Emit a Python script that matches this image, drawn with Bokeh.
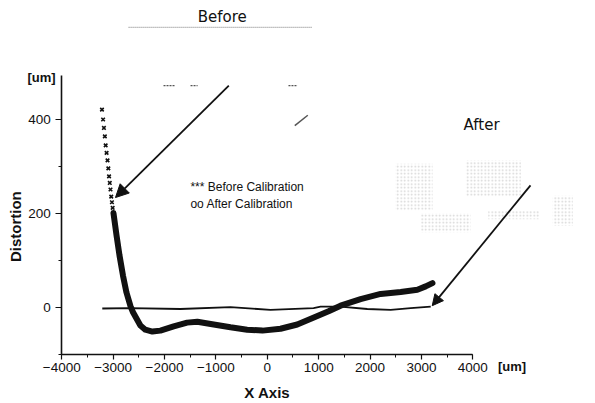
import math
from bokeh.plotting import figure
from bokeh.models import Range1d, SingleIntervalTicker, Label, Arrow, NormalHead
from bokeh.embed import file_html
from bokeh.resources import INLINE

# ---------------- data ----------------
# "Before calibration": steep part drawn as separate markers
before_marker_x = [-3218, -3196, -3180, -3162, -3146, -3128, -3110, -3094, -3080, -3066, -3052, -3038, -3024, -3010, -2994]
before_marker_y = [421, 400, 382, 364, 345, 329, 313, 296, 279, 265, 251, 236, 224, 212, 201]
# "Before calibration": dense part (markers merge into a thick band)
before_line_x = [-2994, -2934, -2877, -2809, -2741, -2663, -2614, -2470, -2374, -2237, -2081, -1822, -1561,
                 -1362, -1043, -717, -392, -94, 257, 583, 906, 1193, 1426, 1816, 2206, 2596, 2921, 3083, 3214]
before_line_y = [201, 153, 111, 68, 32, 3, -10, -38, -47, -51, -49, -40, -32,
                 -30, -36, -42, -47, -49, -45, -36, -21, -8, 4, 18, 29, 33, 38, 45, 52]
# "After calibration"
after_x = [-3212, -2666, -1692, -717, 62, 900, 1037, 1426, 1946, 2401, 2791, 3181]
after_y = [-2, -1, -3, 1, -5, -1, 2, 2, -3, -5, -1, 2]

x_tick_interval = 1000
y_tick_interval = 200
x_axis_bounds = (-4000, 4000)
y_axis_bounds = (-100, 494)

legend_lines = ["*** Before Calibration", "oo  After Calibration"]

FONT = "Liberation Sans"
INK = "#111111"

p = figure(width=595, height=403, output_backend="svg", toolbar_location=None,
           x_range=Range1d(-5193, 6388), y_range=Range1d(-204, 653),
           min_border_left=0, min_border_right=0, min_border_top=0, min_border_bottom=0,
           background_fill_color="white", border_fill_color="white")
p.outline_line_color = None
p.grid.visible = False

# axes drawn inside the (full-canvas) frame at fixed data locations
p.xaxis.fixed_location = y_axis_bounds[0]
p.yaxis.fixed_location = x_axis_bounds[0]
p.xaxis.bounds = x_axis_bounds
p.yaxis.bounds = y_axis_bounds
p.xaxis.ticker = SingleIntervalTicker(interval=x_tick_interval, num_minor_ticks=2)
p.yaxis.ticker = SingleIntervalTicker(interval=y_tick_interval, num_minor_ticks=2)
for ax in (p.xaxis, p.yaxis):
    ax.axis_line_color = INK
    ax.axis_line_width = 1.6
    ax.major_tick_line_color = INK
    ax.minor_tick_line_color = INK
    ax.major_tick_line_width = 1.2
    ax.major_tick_in = 0
    ax.minor_tick_in = 0
    ax.major_label_text_font = FONT
    ax.major_label_text_font_size = "13.5px"
    ax.major_label_text_color = INK
p.xaxis.major_tick_out = 5
p.xaxis.minor_tick_out = 3
p.xaxis.major_label_standoff = 3
p.yaxis.major_tick_out = 6
p.yaxis.minor_tick_out = 3
p.yaxis.major_label_standoff = 5

# ---------------- "Before" / "After" inset remnants ----------------
hatch_boxes = [
    (2496, 3216, 206, 306),
    (3865, 4936, 236, 313),
    (2985, 3958, 160, 200),
    (5556, 5945, 174, 238),
    (4300, 5300, 188, 206),
]
p.quad(left=[b[0] for b in hatch_boxes], right=[b[1] for b in hatch_boxes],
       bottom=[b[2] for b in hatch_boxes], top=[b[3] for b in hatch_boxes],
       fill_alpha=0, line_alpha=0, hatch_pattern="dot", hatch_color="#a0a0a0",
       hatch_alpha=0.45, hatch_scale=3.5, hatch_weight=1)

p.line(x=[-2700, 881], y=[596, 596], line_color="#777777", line_width=1, line_dash="1 1")
p.multi_line(xs=[[-2020, -1806], [-1494, -1357], [412, 588]], ys=[[472, 472], [472, 472], [472, 472]],
             line_color="#555555", line_width=1.2, line_dash="2 1")
p.line(x=[535, 788], y=[387, 409], line_color="#555555", line_width=1.5)

# ---------------- series ----------------
p.line(x=after_x, y=after_y, line_color=INK, line_width=1.8)
p.line(x=before_line_x, y=before_line_y, line_color=INK, line_width=6, line_join="round", line_cap="round")
p.scatter(x=before_marker_x, y=before_marker_y, marker="x", size=5,
          line_color=INK, line_width=1.6)

# ---------------- arrows ----------------
p.add_layout(Arrow(end=NormalHead(size=13, fill_color=INK, line_color=INK),
                   x_start=-749, y_start=472, x_end=-2955, y_end=234,
                   line_color=INK, line_width=1.8))
p.add_layout(Arrow(end=NormalHead(size=11, fill_color=INK, line_color=INK),
                   x_start=5123, y_start=260, x_end=3210, y_end=4,
                   line_color=INK, line_width=1.8))

# ---------------- texts ----------------
def add_label(x, y, text, size, bold=False, align="center", font=FONT, angle=0.0):
    p.add_layout(Label(x=x, y=y, text=text, text_font=font, text_font_size=size,
                       text_font_style="bold" if bold else "normal",
                       text_align=align, text_baseline="middle", text_color=INK, angle=angle))

add_label(-878, 617, "Before", "15px", font="DejaVu Sans")
add_label(4170, 389, "After", "15px", font="DejaVu Sans")
add_label(-1497, 256, legend_lines[0], "12px", align="left")
add_label(-1497, 221, legend_lines[1], "12px", align="left")
add_label(-4395, 489, "[um]", "13px", bold=True)
add_label(4763, -126, "[um]", "13px", bold=True)
add_label(0, -181, "X Axis", "15px", bold=True)
add_label(-4901, 172, "Distortion", "15px", bold=True, angle=math.pi / 2)

open("out.html", "w").write(file_html(p, INLINE))
